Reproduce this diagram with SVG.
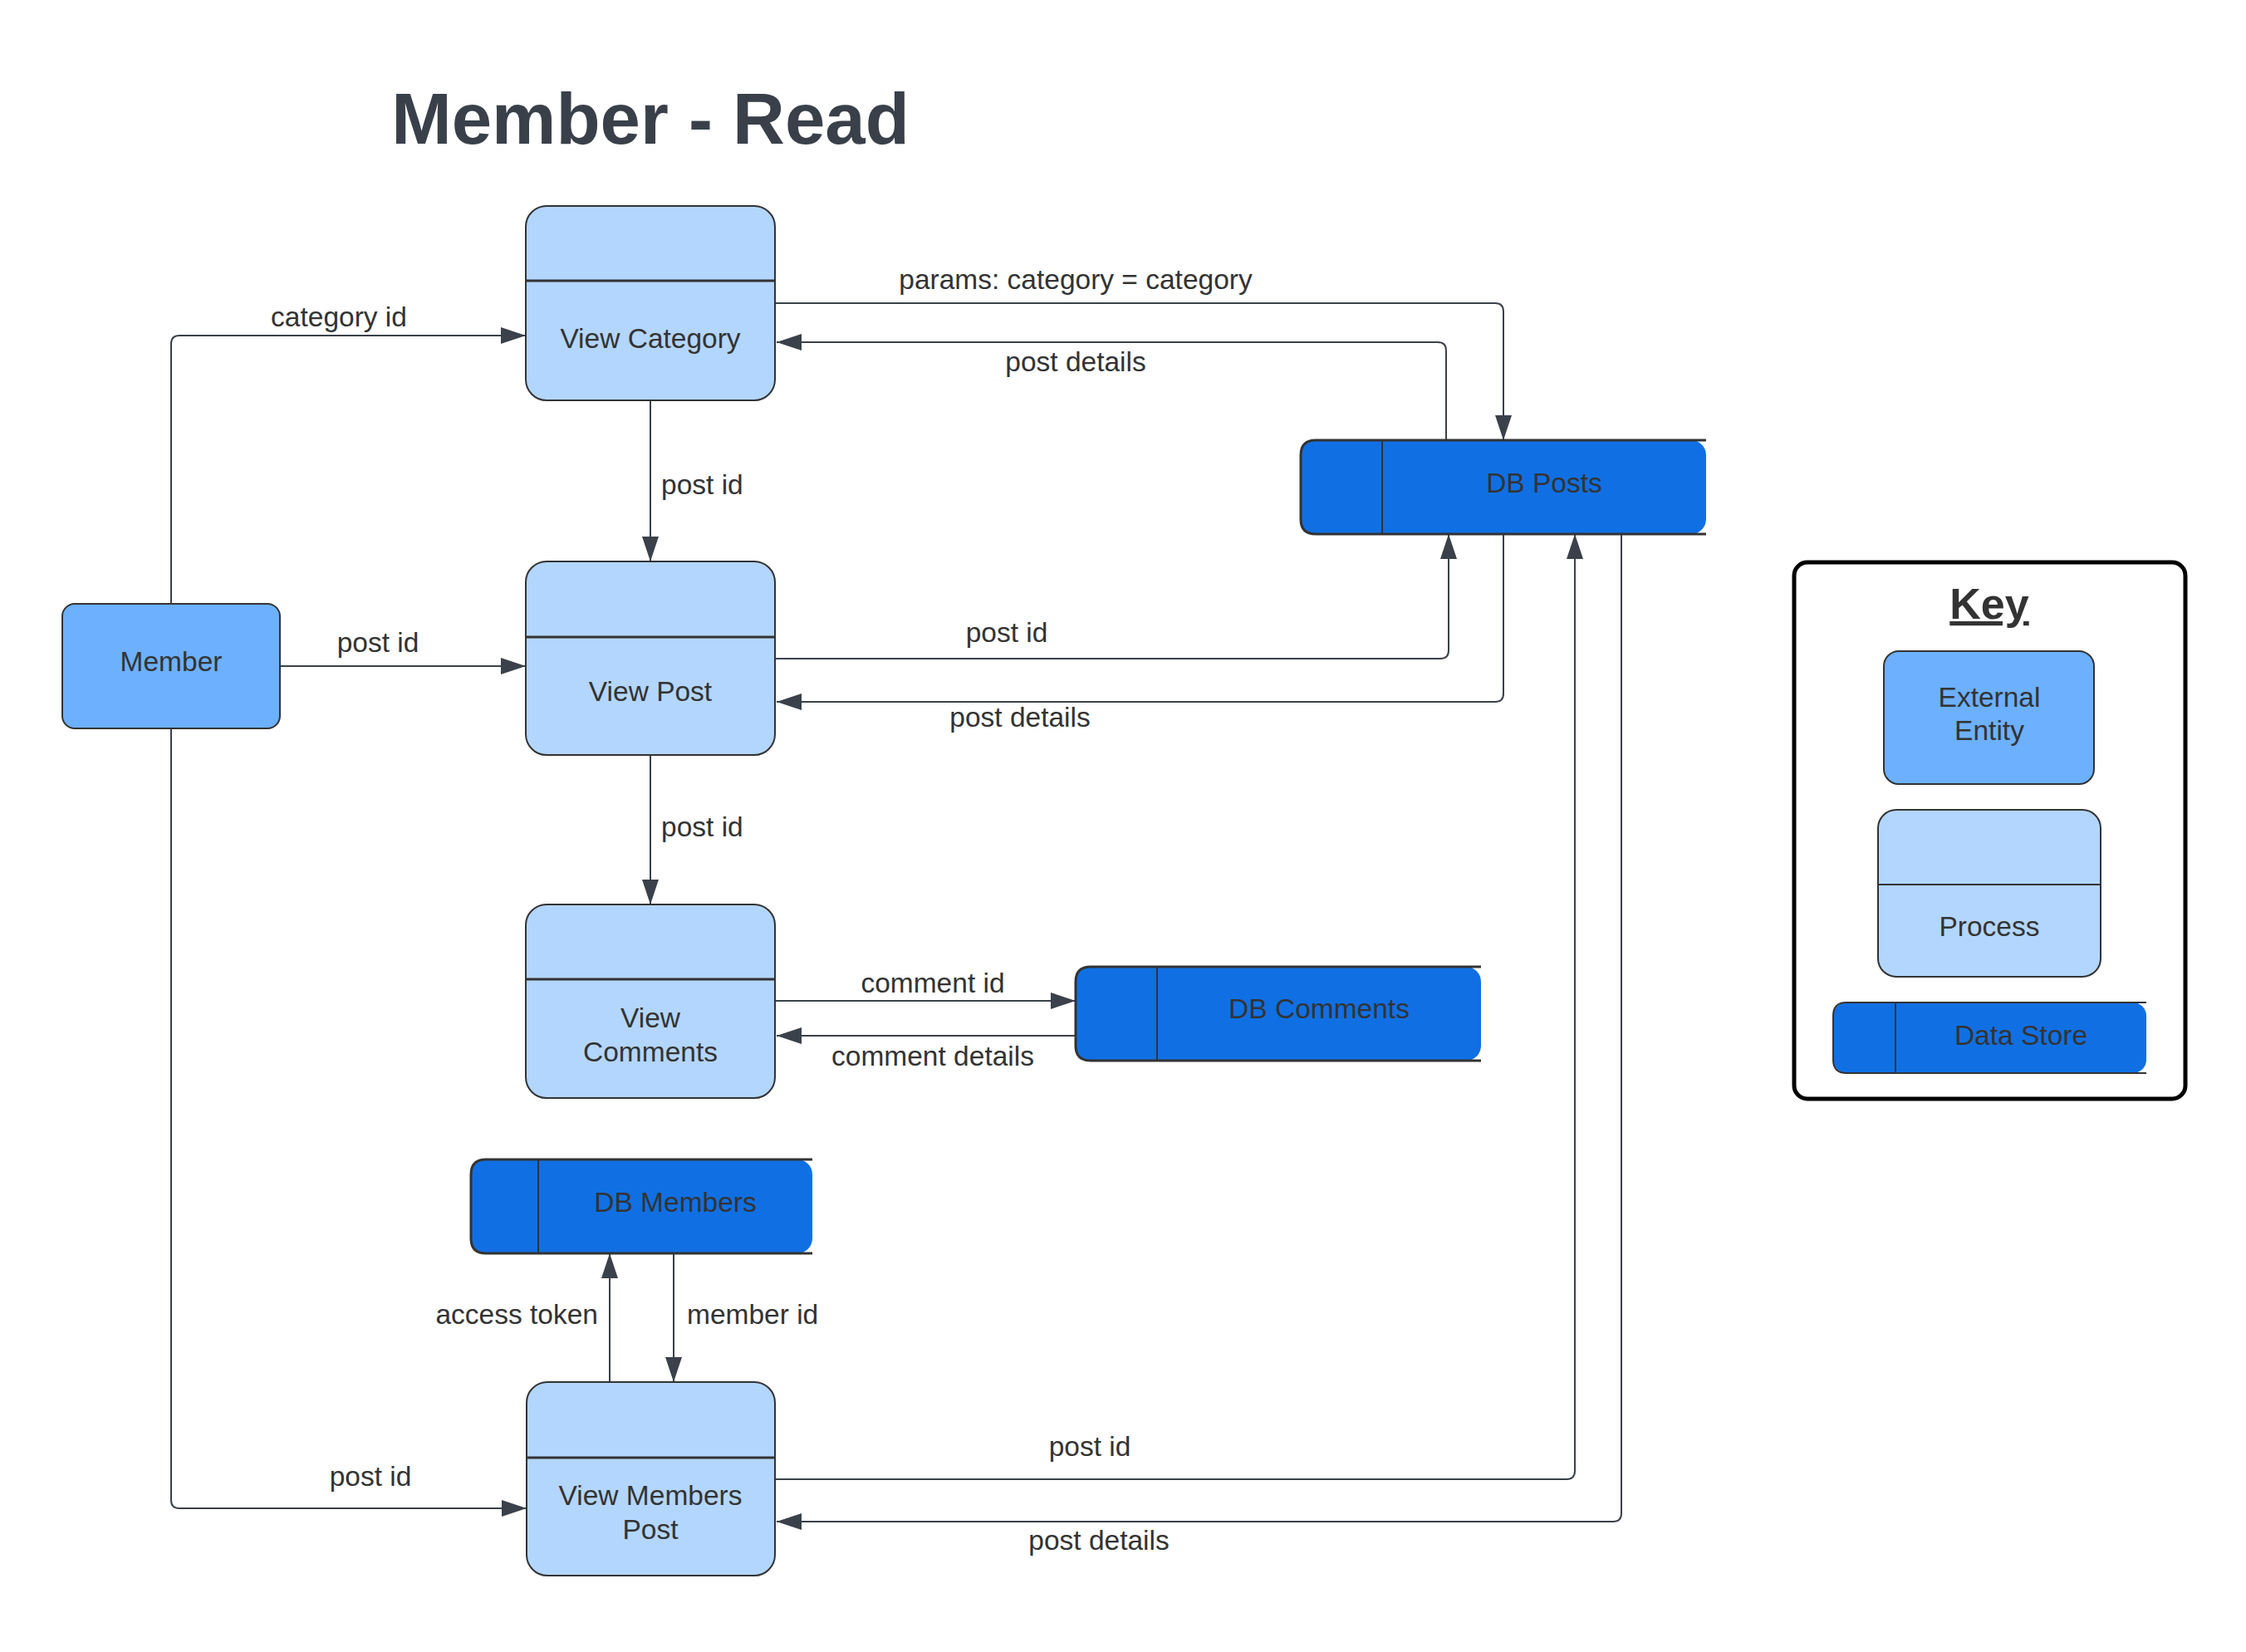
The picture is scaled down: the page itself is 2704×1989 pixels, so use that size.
<svg xmlns="http://www.w3.org/2000/svg" width="2704" height="1989" viewBox="0 0 2704 1989">
<style>
text{font-family:"Liberation Sans",Arial,sans-serif;fill:#333333;}
.lbl{font-size:33.5px;}
.mid{text-anchor:middle;}
.title{font-size:87px;font-weight:bold;fill:#39404a;text-anchor:middle;}
.ent{fill:#6cb0fe;stroke:#333333;stroke-width:2;}
.proc{fill:#b3d6fe;stroke:#333333;stroke-width:2;}
.div{stroke:#333333;stroke-width:3;fill:none;}
.dsfill{fill:#1070e3;stroke:none;}
.dsline{fill:none;stroke:#333333;stroke-width:3;}
.dsdiv{stroke:#333333;stroke-width:2;}
.conn{fill:none;stroke:#3a414a;stroke-width:2;}
.arr{marker-end:url(#ah);}
</style>
<defs>
<marker id="ah" viewBox="0 0 30 20" markerWidth="30" markerHeight="20" refX="30" refY="10" markerUnits="userSpaceOnUse" orient="auto">
<path d="M0,0 L30,10 L0,20 z" fill="#3a414a"/>
</marker>
</defs>
<rect width="2704" height="1989" fill="#ffffff"/>
<text class="title" x="783" y="173">Member - Read</text>

<g id="connectors">
<path class="conn arr" d="M206,727 V414 Q206,404 216,404 H633"/>
<path class="conn arr" d="M933,365 H1800 Q1810,365 1810,375 V530"/>
<path class="conn arr" d="M1741,530 V422 Q1741,412 1731,412 H935"/>
<path class="conn arr" d="M783,482 V676"/>
<path class="conn arr" d="M337,802 H633"/>
<path class="conn arr" d="M933,793 H1734 Q1744,793 1744,783 V643"/>
<path class="conn arr" d="M1810,643 V835 Q1810,845 1800,845 H935"/>
<path class="conn arr" d="M783,909 V1089"/>
<path class="conn arr" d="M933,1205 H1295"/>
<path class="conn arr" d="M1295,1247 H935"/>
<path class="conn arr" d="M734,1664 V1509"/>
<path class="conn arr" d="M811,1509 V1664"/>
<path class="conn arr" d="M206,877 V1806 Q206,1816 216,1816 H634"/>
<path class="conn arr" d="M933,1781 H1886 Q1896,1781 1896,1771 V643"/>
<path class="conn arr" d="M1952,643 V1822 Q1952,1832 1942,1832 H935"/>
<text class="lbl mid" x="408" y="393">category id</text>
<text class="lbl mid" x="1295" y="348">params: category = category</text>
<text class="lbl mid" x="1295" y="447">post details</text>
<text class="lbl" x="796" y="595">post id</text>
<text class="lbl mid" x="455" y="785">post id</text>
<text class="lbl mid" x="1212" y="773">post id</text>
<text class="lbl mid" x="1228" y="875">post details</text>
<text class="lbl" x="796" y="1007">post id</text>
<text class="lbl mid" x="1123" y="1195">comment id</text>
<text class="lbl mid" x="1123" y="1283">comment details</text>
<text class="lbl" x="720" y="1594" text-anchor="end">access token</text>
<text class="lbl" x="827" y="1594">member id</text>
<text class="lbl mid" x="1312" y="1753">post id</text>
<text class="lbl mid" x="1323" y="1866">post details</text>
<text class="lbl mid" x="446" y="1789">post id</text>
</g>

<g id="member">
<rect class="ent" x="75" y="727" width="262" height="150" rx="15"/>
<text class="lbl mid" x="206" y="808">Member</text>
</g>

<g id="view-category">
<rect class="proc" x="633" y="248" width="300" height="234" rx="25"/>
<line class="div" x1="633" y1="338" x2="933" y2="338"/>
<text class="lbl mid" x="783" y="419">View Category</text>
</g>

<g id="view-post">
<rect class="proc" x="633" y="676" width="300" height="233" rx="25"/>
<line class="div" x1="633" y1="767" x2="933" y2="767"/>
<text class="lbl mid" x="783" y="844">View Post</text>
</g>

<g id="view-comments">
<rect class="proc" x="633" y="1089" width="300" height="233" rx="25"/>
<line class="div" x1="633" y1="1179" x2="933" y2="1179"/>
<text class="lbl mid" x="783" y="1237">View</text>
<text class="lbl mid" x="783" y="1278">Comments</text>
</g>

<g id="view-members-post">
<rect class="proc" x="634" y="1664" width="299" height="233" rx="25"/>
<line class="div" x1="634" y1="1755" x2="933" y2="1755"/>
<text class="lbl mid" x="783" y="1812">View Members</text>
<text class="lbl mid" x="783" y="1853">Post</text>
</g>

<g id="db-posts">
<rect class="dsfill" x="1566" y="530" width="488" height="113" rx="18"/>
<path class="dsline" d="M2054,530 H1584 Q1566,530 1566,548 V625 Q1566,643 1584,643 H2054"/>
<line class="dsdiv" x1="1664" y1="530" x2="1664" y2="643"/>
<text class="lbl mid" x="1859" y="593">DB Posts</text>
</g>

<g id="db-comments">
<rect class="dsfill" x="1295" y="1164" width="488" height="113" rx="18"/>
<path class="dsline" d="M1783,1164 H1313 Q1295,1164 1295,1182 V1259 Q1295,1277 1313,1277 H1783"/>
<line class="dsdiv" x1="1393" y1="1164" x2="1393" y2="1277"/>
<text class="lbl mid" x="1588" y="1226">DB Comments</text>
</g>

<g id="db-members">
<rect class="dsfill" x="567" y="1396" width="411" height="113" rx="18"/>
<path class="dsline" d="M978,1396 H585 Q567,1396 567,1414 V1491 Q567,1509 585,1509 H978"/>
<line class="dsdiv" x1="648" y1="1396" x2="648" y2="1509"/>
<text class="lbl mid" x="813" y="1459">DB Members</text>
</g>

<g id="key">
<rect x="2160" y="677" width="471" height="646" rx="16" fill="#ffffff" stroke="#000000" stroke-width="5"/>
<text x="2395" y="745" text-anchor="middle" font-size="52" font-weight="bold" text-decoration="underline">Key</text>
<rect class="ent" x="2268" y="784" width="253" height="160" rx="18"/>
<text class="lbl mid" x="2395" y="851">External</text>
<text class="lbl mid" x="2395" y="891">Entity</text>
<rect class="proc" x="2261" y="975" width="268" height="201" rx="22"/>
<line class="dsdiv" x1="2261" y1="1065" x2="2529" y2="1065"/>
<text class="lbl mid" x="2395" y="1127">Process</text>
<rect class="dsfill" x="2207" y="1207" width="377" height="85" rx="16"/>
<path class="dsline" style="stroke-width:2" d="M2584,1207 H2223 Q2207,1207 2207,1223 V1276 Q2207,1292 2223,1292 H2584"/>
<line class="dsdiv" x1="2282" y1="1207" x2="2282" y2="1292"/>
<text class="lbl mid" x="2433" y="1258">Data Store</text>
</g>
</svg>
